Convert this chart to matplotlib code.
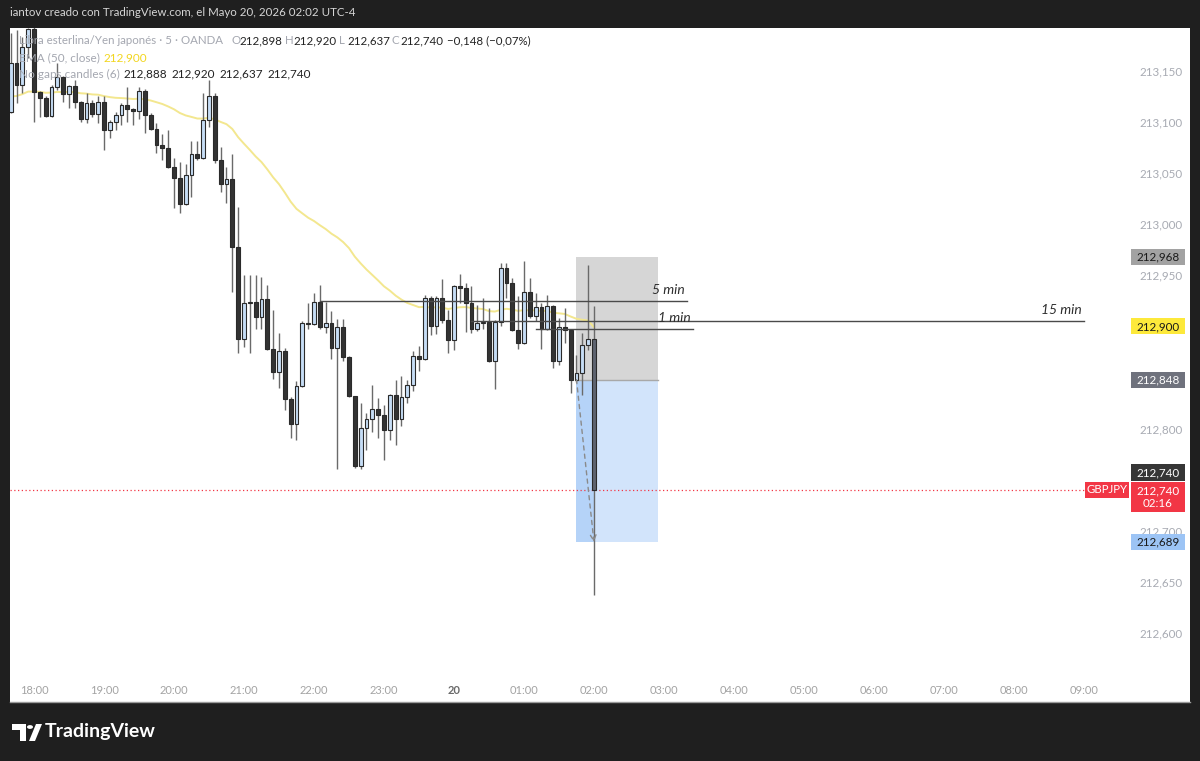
import matplotlib
matplotlib.use("Agg")
import matplotlib.pyplot as plt
from matplotlib.patches import Rectangle, Polygon, Circle
import numpy as np

plt.rcParams['font.family'] = ['Lato', 'DejaVu Sans']

# ---------------- data ----------------
bar_start = "17:40"          # first bar, 5-minute bars
opens = [213.110, 213.158, 213.136, 213.173, 213.191, 213.129, 213.124, 213.106, 213.134, 213.144,
         213.127, 213.135, 213.120, 213.103, 213.119, 213.108, 213.120, 213.092, 213.100, 213.107,
         213.117, 213.113, 213.111, 213.130, 213.107, 213.093, 213.078, 213.075, 213.056, 213.045,
         213.020, 213.048, 213.069, 213.065, 213.102, 213.125, 213.063, 213.039, 213.044, 212.978,
         212.888, 212.923, 212.924, 212.909, 212.927, 212.878, 212.855, 212.876, 212.829, 212.805,
         212.842, 212.903, 212.902, 212.924, 212.899, 212.903, 212.879, 212.899, 212.870, 212.832,
         212.763, 212.801, 212.809, 212.819, 212.813, 212.799, 212.833, 212.809, 212.831, 212.843,
         212.871, 212.868, 212.928, 212.900, 212.928, 212.906, 212.887, 212.940, 212.938, 212.923,
         212.898, 212.903, 212.904, 212.866, 212.904, 212.957, 212.943, 212.897, 212.884, 212.934,
         212.910, 212.919, 212.898, 212.920, 212.866, 212.899, 212.897, 212.848, 212.854, 212.882,
         212.888]
highs = [213.187, 213.190, 213.183, 213.192, 213.195, 213.130, 213.125, 213.136, 213.158, 213.145,
         213.136, 213.141, 213.121, 213.128, 213.122, 213.125, 213.125, 213.102, 213.110, 213.119,
         213.134, 213.114, 213.134, 213.132, 213.109, 213.099, 213.088, 213.092, 213.065, 213.061,
         213.059, 213.081, 213.081, 213.128, 213.141, 213.128, 213.076, 213.056, 213.069, 213.017,
         212.950, 212.950, 212.950, 212.948, 212.941, 212.916, 212.894, 212.879, 212.831, 212.847,
         212.905, 212.923, 212.933, 212.941, 212.924, 212.915, 212.907, 212.907, 212.871, 212.832,
         212.825, 212.815, 212.843, 212.830, 212.823, 212.834, 212.848, 212.852, 212.848, 212.876,
         212.881, 212.931, 212.930, 212.930, 212.946, 212.916, 212.941, 212.951, 212.943, 212.940,
         212.921, 212.928, 212.918, 212.906, 212.962, 212.962, 212.947, 212.930, 212.964, 212.947,
         212.933, 212.923, 212.931, 212.921, 212.908, 212.918, 212.898, 212.872, 212.894, 212.960,
         212.920]
lows = [213.109, 213.119, 213.128, 213.163, 213.100, 213.105, 213.105, 213.105, 213.131, 213.120,
        213.114, 213.114, 213.100, 213.099, 213.105, 213.099, 213.073, 213.084, 213.092, 213.097,
        213.100, 213.097, 213.103, 213.089, 213.092, 213.070, 213.063, 213.055, 213.016, 213.011,
        213.019, 213.027, 213.063, 213.064, 213.095, 213.060, 213.032, 213.021, 212.934, 212.874,
        212.880, 212.874, 212.898, 212.898, 212.877, 212.849, 212.840, 212.818, 212.791, 212.789,
        212.841, 212.898, 212.901, 212.898, 212.894, 212.868, 212.761, 212.866, 212.831, 212.762,
        212.761, 212.779, 212.797, 212.791, 212.769, 212.789, 212.784, 212.803, 212.825, 212.837,
        212.856, 212.867, 212.892, 212.893, 212.903, 212.874, 212.877, 212.923, 212.895, 212.894,
        212.896, 212.898, 212.865, 212.839, 212.900, 212.928, 212.896, 212.878, 212.883, 212.908,
        212.905, 212.878, 212.897, 212.859, 212.862, 212.884, 212.835, 212.846, 212.833, 212.877,
        212.637]
closes = [213.158, 213.136, 213.173, 213.191, 213.129, 213.124, 213.106, 213.134, 213.144, 213.127,
          213.135, 213.120, 213.103, 213.119, 213.108, 213.120, 213.092, 213.100, 213.107, 213.117,
          213.113, 213.111, 213.130, 213.107, 213.093, 213.078, 213.075, 213.056, 213.045, 213.020,
          213.048, 213.069, 213.065, 213.102, 213.125, 213.063, 213.039, 213.044, 212.978, 212.888,
          212.923, 212.924, 212.909, 212.927, 212.878, 212.855, 212.876, 212.829, 212.805, 212.842,
          212.903, 212.902, 212.924, 212.899, 212.903, 212.879, 212.899, 212.870, 212.832, 212.763,
          212.801, 212.809, 212.819, 212.813, 212.799, 212.833, 212.809, 212.831, 212.843, 212.871,
          212.868, 212.928, 212.900, 212.928, 212.906, 212.887, 212.940, 212.938, 212.923, 212.898,
          212.903, 212.904, 212.866, 212.904, 212.957, 212.943, 212.897, 212.884, 212.934, 212.910,
          212.919, 212.898, 212.920, 212.866, 212.899, 212.897, 212.848, 212.854, 212.882, 212.888,
          212.740]
ema_seed = 213.125
ema_period = 50

time_labels = ["18:00", "19:00", "20:00", "21:00", "22:00", "23:00", "20", "01:00",
               "02:00", "03:00", "04:00", "05:00", "06:00", "07:00", "08:00", "09:00"]
price_ticks = [213.150, 213.100, 213.050, 213.000, 212.950, 212.800, 212.700, 212.650, 212.600]

# horizontal reference lines: (price, start bar, end bar, label)
levels = [(212.925, 53, 116, "5 min"), (212.905, 79, 184, "15 min"), (212.898, 90, 117, "1 min")]
# position tool
pos_start, pos_now, pos_end = 97, 100, 111
pos_entry, pos_stop, pos_target = 212.848, 212.968, 212.689
last_price = 212.740

# ---------------- figure ----------------
W, H = 1200, 761
fig = plt.figure(figsize=(12, 7.61), dpi=100)
fig.patch.set_facecolor('#1f1f1f')

def fr(x0, y0, x1, y1):
    return [x0 / W, 1 - y1 / H, (x1 - x0) / W, (y1 - y0) / H]

fig.patches.append(Rectangle((10 / W, 1 - 702 / H), 1180 / W, 674 / H,
                             transform=fig.transFigure, facecolor='white', edgecolor='none', zorder=-5))
fig.lines.append(plt.Line2D([10 / W, 1190 / W], [1 - 702 / H] * 2, transform=fig.transFigure,
                            color='#9a9a9a', lw=1, zorder=-4))

ax = fig.add_axes(fr(10, 28, 1128, 675))
ax.set_zorder(1)
ax.set_facecolor('white')
for s in ax.spines.values():
    s.set_visible(False)

n = len(closes)
idx = np.arange(n)
ax.set_xlim(-0.115, 191.55)
ax.set_ylim(212.559, 213.192)
PPU = 647 / (213.192 - 212.559)   # pixels per price unit

# position tool boxes
ax.add_patch(Rectangle((pos_start, pos_entry), pos_end - pos_start, pos_stop - pos_entry,
                       facecolor='#d6d6d6', edgecolor='none', zorder=1))
ax.add_patch(Rectangle((pos_start, pos_target), pos_end - pos_start, pos_entry - pos_target,
                       facecolor='#d2e4fb', edgecolor='none', zorder=1))
ax.add_patch(Rectangle((pos_start, pos_target), pos_now - pos_start, pos_entry - pos_target,
                       facecolor='#b5d3f8', edgecolor='none', zorder=1.1))
ax.plot([pos_start, pos_end], [pos_entry, pos_entry], color='#a8a8a8', lw=1, zorder=1.2)

# last price line
ax.axhline(last_price, xmin=0, xmax=(1085 - 10) / 1118, color='#f23645', lw=0.9,
           linestyle=(0, (1, 2)), zorder=1.3)

# EMA computed from closes
alpha = 2 / (ema_period + 1)
ema = [ema_seed]
for c in closes[1:]:
    ema.append(ema[-1] + alpha * (c - ema[-1]))
ax.plot(idx, ema, color='#f3e78f', lw=1.4, zorder=2)

# candles
for i in range(n):
    o, h, l, c = opens[i], highs[i], lows[i], closes[i]
    ax.plot([i, i], [l, h], color='#6a6a6a', lw=1, zorder=3, solid_capstyle='butt')
    up = c >= o
    bot = min(o, c)
    hgt = max(abs(c - o), 1.2 / PPU)
    face = '#c6ddf6' if up else ('#5e6470' if i == n - 1 else '#333333')
    ax.add_patch(Rectangle((i - 0.33, bot), 0.66, hgt, facecolor=face,
                           edgecolor='#2a2a2a', lw=0.8, zorder=4))

# dashed projection arrow
ax.annotate('', xy=(pos_now, pos_target), xytext=(pos_start, pos_entry),
            arrowprops=dict(arrowstyle='->', linestyle=(0, (3, 3)), color='#8a8a8a', lw=1,
                            shrinkA=0, shrinkB=0), zorder=5)

# levels
for price, x0, x1, lab in levels:
    ax.plot([x0, x1], [price, price], color='#4a4a4a', lw=1, zorder=5)
    ax.text(x1 - 0.4, price + 11 / PPU, lab, ha='right', va='center', fontsize=10,
            style='italic', color='#2f2f2f', zorder=6)

# x axis
ax.set_xticks([4 + 12 * k for k in range(len(time_labels))])
ax.set_xticklabels(time_labels)
ax.tick_params(axis='x', length=0, pad=7, labelsize=8, labelcolor='#a3a3a3')
for t in ax.get_xticklabels():
    if t.get_text() == "20":
        t.set_color('#6a6a6a')
        t.set_fontweight('bold')

# y axis on right
ax.yaxis.tick_right()
ax.set_yticks(price_ticks)
ax.set_yticklabels([f"{p:.3f}".replace('.', ',') for p in price_ticks])
ax.tick_params(axis='y', length=0, pad=8, labelsize=8.4, labelcolor='#a8abb3')

# price badges
ytr = ax.get_yaxis_transform()
bx0 = (1131 - 10) / 1118
bw = 54 / 1118
def badge(price, text, bg, fg, off_px=0.0, hpx=16):
    yc = price - off_px / PPU
    ax.add_patch(Rectangle((bx0, yc - hpx / 2 / PPU), bw, hpx / PPU, transform=ytr,
                           facecolor=bg, edgecolor='none', clip_on=False, zorder=8))
    ax.text(bx0 + bw / 2, yc, text, transform=ytr, ha='center', va='center', fontsize=8.4,
            color=fg, clip_on=False, zorder=9, linespacing=1.2)

badge(pos_stop, "212,968", '#a2a2a2', '#1a1a1a')
badge(212.900, "212,900", '#fde93b', '#1a1a1a')
badge(pos_entry, "212,848", '#6f727d', 'white')
badge(last_price, "212,740", '#363636', 'white', off_px=-17.5, hpx=17)
badge(last_price, "212,740\n02:16", '#f23645', 'white', off_px=7, hpx=30)
badge(pos_target, "212,689", '#9cc4f5', '#1a1a1a', off_px=0)

# GBPJPY label
gx0 = (1085 - 10) / 1118
gw = 44 / 1118
ax.add_patch(Rectangle((gx0, last_price - 8 / PPU), gw, 16 / PPU, transform=ytr,
                       facecolor='#f23645', edgecolor='none', clip_on=False, zorder=8))
ax.text(gx0 + gw / 2, last_price, "GBPJPY", transform=ytr, ha='center', va='center',
        fontsize=8.2, color='white', clip_on=False, zorder=9)

# legend texts (figure pixels)
def ftxt(x, y, s, color, **kw):
    fig.text(x / W, 1 - y / H, s, ha='left', va='center', color=color, **kw)

gray = '#a4a7b0'
dark = '#222222'
fs = 8.3
ftxt(19, 41, "Libra esterlina/Yen japonés · 5 · OANDA", gray, fontsize=fs, zorder=10)
for lx, lab, vx, val in [(231, "O", 239, "212,898"), (285, "H", 293, "212,920"),
                         (339, "L", 347, "212,637"), (392, "C", 400, "212,740")]:
    ftxt(lx, 41, lab, gray, fontsize=fs, zorder=10)
    ftxt(vx, 41, val, dark, fontsize=fs, zorder=10)
ftxt(447, 41, "\u22120,148 (\u22120,07%)", dark, fontsize=fs, zorder=10)
ftxt(19, 58, "EMA (50, close)", gray, fontsize=8.5, zorder=10)
ftxt(103, 58, "212,900", '#f2d61f', fontsize=8.5, zorder=10)
ftxt(19, 74, "No gaps candles (6)", gray, fontsize=8.5, zorder=10)
for vx, val in [(124, "212,888"), (172, "212,920"), (220, "212,637"), (267, "212,740")]:
    ftxt(vx, 74, val, dark, fontsize=8.5, zorder=10)

# header
ftxt(10, 13, "iantov creado con TradingView.com, el Mayo 20, 2026 02:02 UTC-4", '#d6d6d6',
     fontsize=8.3)

# TradingView logo
def P(x, y):
    return (x / W, 1 - y / H)
fig.patches.append(Polygon([P(12, 724), P(26, 724), P(26, 741), P(20, 741), P(20, 730), P(12, 730)],
                           closed=True, transform=fig.transFigure, facecolor='white', edgecolor='none'))
fig.patches.append(Circle(P(30, 727), 3 / W, transform=fig.transFigure, facecolor='white',
                          edgecolor='none'))
fig.patches.append(Polygon([P(36, 724), P(42, 724), P(35, 741), P(29, 741)],
                           closed=True, transform=fig.transFigure, facecolor='white', edgecolor='none'))
ftxt(45, 732, "TradingView", 'white', fontsize=14, fontweight='bold')

fig.savefig("out.png", dpi=100, facecolor=fig.get_facecolor())
